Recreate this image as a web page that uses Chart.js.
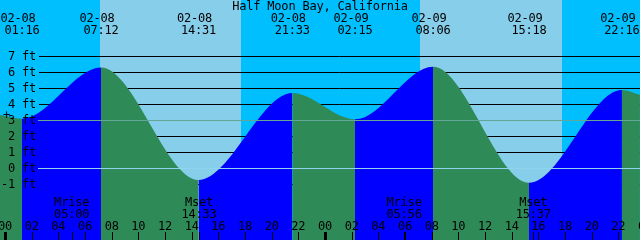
<!DOCTYPE html>
<html>
<head>
<meta charset="utf-8">
<script src="https://cdn.jsdelivr.net/npm/chart.js@4/dist/chart.umd.min.js"></script>
<style>
  html, body { margin: 0; padding: 0; background: #00bfff; }
  #wrap { width: 640px; height: 240px; }
</style>
</head>
<body>
<div id="wrap"><canvas id="tideChart"></canvas></div>
<script>
const stationName = 'Half Moon Bay, California';

// highs and lows (plus the level at both edges of the graph)
const tideDates = ['02-07', '02-08', '02-08', '02-08', '02-08', '02-09', '02-09', '02-09', '02-09', '02-09'];
const tideTimes = ['23:37', '01:16', '07:12', '14:31', '21:33', '02:15', '08:06', '15:18', '22:16', '23:37'];
const tideFeet = [3.33, 3.1, 6.3, -0.73, 4.7, 3.06, 6.35, -0.9, 4.9, 4.6];
const labelled = [false, true, true, true, true, true, true, true, true, false];

// daylight bands
const sunrises = ['02-08 07:07', '02-09 07:07'];
const sunsets = ['02-08 17:42', '02-09 17:45'];

// moon rise / set along the bottom
const moonLabels = ['Mrise', 'Mset', 'Mrise', 'Mset'];
const moonDates = ['02-08', '02-08', '02-09', '02-09'];
const moonTimes = ['05:00', '14:33', '05:56', '15:37'];

const depthTicks = [7, 6, 5, 4, 3, 2, 1, 0, -1];
const hourTicks = [0, 2, 4, 6, 8, 10, 12, 14, 16, 18, 20, 22, 24, 26, 28, 30, 32, 34, 36, 38, 40, 42, 44, 46, 48];
const markLevel = 3;
const datumLevel = 0;

const FONT = '12px "DejaVu Sans Mono", monospace';

function toHours(date, time) {
  const day = parseInt(date.slice(3), 10) - 8;
  const [hh, mm] = time.split(':').map(Number);
  return day * 24 + hh + mm / 60;
}

function pad2(n) {
  n = n % 24;
  return (n < 10 ? '0' : '') + n;
}

const xtide = {
  id: 'xtide',
  beforeDraw(chart) {
    const { ctx, chartArea: a, scales: { x } } = chart;
    ctx.save();
    ctx.fillStyle = '#00bfff';
    ctx.fillRect(a.left, a.top, a.width, a.height);
    ctx.fillStyle = '#87ceeb';
    sunrises.forEach((s, i) => {
      const r = s.split(' '), t = sunsets[i].split(' ');
      const x0 = Math.round(x.getPixelForValue(toHours(r[0], r[1])));
      const x1 = Math.round(x.getPixelForValue(toHours(t[0], t[1])));
      ctx.fillRect(x0, a.top, x1 - x0, a.height);
    });
    ctx.restore();
  },
  beforeDatasetsDraw(chart) {
    const { ctx, chartArea: a, scales: { y } } = chart;
    ctx.save();
    ctx.strokeStyle = '#000';
    ctx.lineWidth = 1;
    depthTicks.forEach(v => {
      const py = Math.round(y.getPixelForValue(v)) + 0.5;
      ctx.beginPath();
      ctx.moveTo(39, py);
      ctx.lineTo(a.right, py);
      ctx.stroke();
    });
    ctx.restore();
  },
  afterDatasetsDraw(chart) {
    const { ctx, chartArea: a, scales: { x, y } } = chart;
    ctx.save();
    ctx.lineWidth = 1;

    // mark and datum lines
    [[markLevel, '#64a696'], [datumLevel, '#8fd3ee']].forEach(([v, c]) => {
      const py = Math.round(y.getPixelForValue(v)) + 0.5;
      ctx.strokeStyle = c;
      ctx.beginPath();
      ctx.moveTo(38, py);
      ctx.lineTo(a.right, py);
      ctx.stroke();
    });

    ctx.font = FONT;
    ctx.fillStyle = '#000';
    ctx.letterSpacing = '-0.2px';
    ctx.textBaseline = 'alphabetic';

    // depth labels
    ctx.textAlign = 'right';
    depthTicks.forEach(v => {
      const py = Math.round(y.getPixelForValue(v));
      ctx.fillText(v + ' ft', 36, py + 4);
    });
    ctx.textAlign = 'center';
    ctx.fillText('+', 6.5, Math.round(y.getPixelForValue(markLevel)) - 1);

    // title
    ctx.fillText(stationName, 320, 10);

    // tide event labels
    tideTimes.forEach((t, i) => {
      if (!labelled[i]) return;
      const px = x.getPixelForValue(toHours(tideDates[i], t));
      ctx.fillText(tideDates[i], Math.max(18, px - 4), 22);
      ctx.fillText(t, Math.max(22, px), 34);
    });

    // moon labels
    ctx.strokeStyle = '#000';
    moonTimes.forEach((t, i) => {
      const px = x.getPixelForValue(toHours(moonDates[i], t));
      ctx.fillText(moonLabels[i], px, 206);
      ctx.fillText(t, px, 218);
      const tx = Math.round(px) + 0.5;
      ctx.beginPath();
      ctx.moveTo(tx, 232);
      ctx.lineTo(tx, a.bottom);
      ctx.stroke();
    });

    // hour ticks
    hourTicks.forEach(h => {
      const px = x.getPixelForValue(h);
      ctx.fillText(pad2(h), px, 230);
      if (h % 24 === 0) {
        ctx.fillRect(Math.round(px) - 1, 232, 3, a.bottom - 232);
      } else {
        const tx = Math.round(px) + 0.5;
        ctx.beginPath();
        ctx.moveTo(tx, 232);
        ctx.lineTo(tx, a.bottom);
        ctx.stroke();
      }
    });
    ctx.restore();
  }
};

const ctx = document.getElementById('tideChart').getContext('2d');
new Chart(ctx, {
  type: 'line',
  data: {
    datasets: [{
      data: tideTimes.map((t, i) => ({ x: toHours(tideDates[i], t), y: tideFeet[i] })),
      fill: 'start',
      borderWidth: 0,
      borderColor: 'rgba(0,0,0,0)',
      backgroundColor: '#2e8b57',
      pointRadius: 0,
      cubicInterpolationMode: 'monotone',
      segment: {
        backgroundColor: c => c.p1.parsed.y > c.p0.parsed.y ? '#0000ff' : '#2e8b57'
      }
    }]
  },
  options: {
    responsive: true,
    maintainAspectRatio: false,
    animation: false,
    events: [],
    layout: { padding: 0 },
    plugins: {
      legend: { display: false },
      tooltip: { enabled: false }
    },
    scales: {
      x: { type: 'linear', display: false, min: -0.375, max: 47.625 },
      y: { display: false, min: -4.48, max: 10.52 }
    }
  },
  plugins: [xtide]
});
</script>
</body>
</html>
